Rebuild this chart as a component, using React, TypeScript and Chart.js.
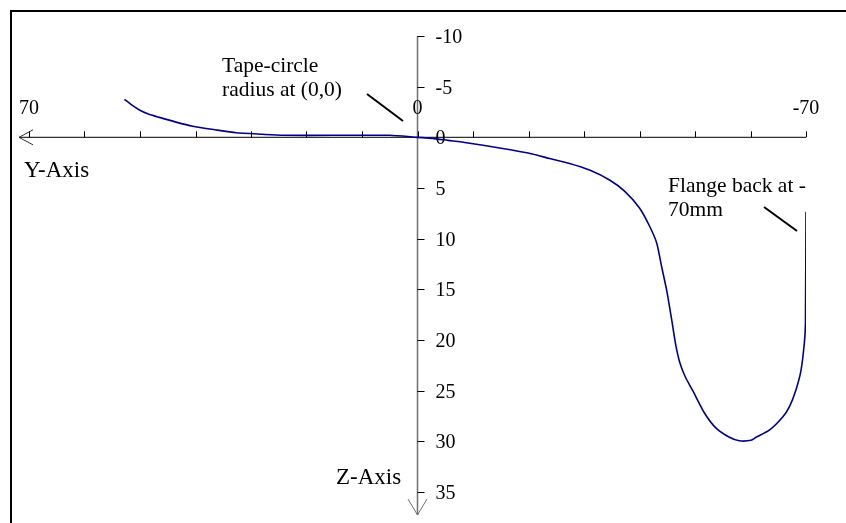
import React, { useEffect, useRef } from "react";
import { Chart, registerables } from "chart.js";

Chart.register(...registerables);

// Profile: Y-axis position (mm) and Z-axis depth (mm)
const profileY = [
  52.8, 51.5, 50.1, 48.5, 46.5, 43.5, 40.5, 36.5, 32.7, 28, 24.3, 15, 5, 0,
  -2.7, -5.5, -8.8, -14.8, -20.7, -23.8, -27.4, -31.0, -34.6, -37.3, -40.0,
  -41.8, -43.1, -44.0, -44.9, -45.8, -46.5, -47.3, -48.3, -49.6, -51.7, -53.8,
  -56.2, -58, -60.1, -61, -63.4, -65.8, -67, -68.2, -69.1, -69.7, -69.9, -70,
];
const profileZ = [
  -3.75, -3.2, -2.7, -2.3, -1.97, -1.5, -1.1, -0.75, -0.45, -0.3, -0.2, -0.2,
  -0.2, 0, 0.1, 0.3, 0.53, 1.06, 1.65, 2.09, 2.58, 3.23, 4.21, 5.31, 6.97, 8.75,
  10.43, 12.8, 15.1, 18.0, 20.4, 22.3, 23.7, 25.0, 27.2, 28.7, 29.6, 29.95, 29.9,
  29.6, 28.9, 27.6, 26.6, 24.9, 23, 20.3, 18.4, 7.35,
];

const xTicks = [70, 60, 50, 40, 30, 20, 10, 0, -10, -20, -30, -40, -50, -60, -70];
const xTickLabels = [70, 0, -70];
const yTicks = [-10, -5, 0, 5, 10, 15, 20, 25, 30, 35];

const SERIF = '"Liberation Serif", "Times New Roman", serif';

const axesPlugin = {
  id: "crossAxes",
  beforeDatasetsDraw(chart: any) {
    const ctx = chart.ctx;
    const xs = chart.scales.x;
    const ys = chart.scales.y;
    const ox = xs.getPixelForValue(0);
    const oy = ys.getPixelForValue(0);
    const xLeft = xs.getPixelForValue(70);
    const xRight = xs.getPixelForValue(-70);
    const yTop = ys.getPixelForValue(-10);
    const yBot = ys.getPixelForValue(35);
    ctx.save();
    // frame
    ctx.strokeStyle = "#000";
    ctx.lineWidth = 2;
    ctx.beginPath();
    ctx.moveTo(11, 523);
    ctx.lineTo(11, 11);
    ctx.lineTo(846, 11);
    ctx.stroke();

    // X axis line with arrow
    ctx.strokeStyle = "#303030";
    ctx.lineWidth = 1.3;
    ctx.beginPath();
    ctx.moveTo(xRight, oy);
    ctx.lineTo(xLeft - 10, oy);
    ctx.stroke();
    ctx.lineWidth = 1;
    ctx.beginPath();
    ctx.moveTo(xLeft + 4, oy - 7.5);
    ctx.lineTo(xLeft - 10, oy);
    ctx.lineTo(xLeft + 4, oy + 7.5);
    ctx.stroke();

    // Y axis line with arrow
    ctx.strokeStyle = "#707070";
    ctx.lineWidth = 1.5;
    ctx.beginPath();
    ctx.moveTo(ox, yTop);
    ctx.lineTo(ox, yBot + 23);
    ctx.stroke();
    ctx.lineWidth = 1;
    ctx.beginPath();
    ctx.moveTo(ox - 9.5, yBot + 7);
    ctx.lineTo(ox, yBot + 23);
    ctx.lineTo(ox + 9.5, yBot + 7);
    ctx.stroke();

    // ticks
    ctx.strokeStyle = "#000";
    ctx.lineWidth = 1;
    xTicks.forEach((v) => {
      const px = Math.round(xs.getPixelForValue(v)) + 0.5;
      ctx.beginPath();
      ctx.moveTo(px, oy);
      ctx.lineTo(px, oy - 6);
      ctx.stroke();
    });
    yTicks.forEach((v) => {
      const py = Math.round(ys.getPixelForValue(v)) + 0.5;
      ctx.beginPath();
      ctx.moveTo(ox, py);
      ctx.lineTo(ox + 7, py);
      ctx.stroke();
    });

    // tick labels
    ctx.fillStyle = "#000";
    ctx.font = `20px ${SERIF}`;
    ctx.textAlign = "center";
    ctx.textBaseline = "alphabetic";
    xTickLabels.forEach((v) => {
      ctx.fillText(String(v), xs.getPixelForValue(v), oy - 23);
    });
    ctx.textAlign = "left";
    yTicks.forEach((v) => {
      ctx.fillText(String(v), ox + 18, ys.getPixelForValue(v) + 7);
    });
    ctx.restore();
  },
  afterDraw(chart: any) {
    const ctx = chart.ctx;
    ctx.save();
    ctx.fillStyle = "#000";
    ctx.textAlign = "left";
    ctx.textBaseline = "alphabetic";
    ctx.font = `23px ${SERIF}`;
    ctx.fillText("Y-Axis", 24, 177);
    ctx.fillText("Z-Axis", 336, 484);
    ctx.font = `21.5px ${SERIF}`;
    ctx.fillText("Tape-circle", 222, 72);
    ctx.fillText("radius at (0,0)", 222, 96);
    ctx.fillText("Flange back at -", 668, 192);
    ctx.fillText("70mm", 668, 216);
    ctx.strokeStyle = "#000";
    ctx.lineWidth = 2;
    ctx.beginPath();
    ctx.moveTo(367, 94);
    ctx.lineTo(403, 121);
    ctx.stroke();
    ctx.beginPath();
    ctx.moveTo(764, 207);
    ctx.lineTo(797, 231);
    ctx.stroke();
    ctx.restore();
  },
};

export default function App() {
  const ref = useRef<HTMLCanvasElement | null>(null);
  useEffect(() => {
    document.body.style.margin = "0";
    const canvas = ref.current;
    if (!canvas) return;
    const points = profileY.map((y, i) => ({ x: y, y: profileZ[i] }));
    const chart = new Chart(canvas, {
      type: "scatter",
      data: {
        datasets: [
          {
            data: points,
            showLine: true,
            borderColor: "#00008b",
            borderWidth: 1.6,
            pointRadius: 0,
            tension: 0.2,
            fill: false,
          },
        ],
      },
      options: {
        responsive: false,
        animation: false,
        devicePixelRatio: 1,
        layout: { padding: { left: 29, right: 40, top: 36, bottom: 31 } },
        plugins: { legend: { display: false }, tooltip: { enabled: false } },
        scales: {
          x: { type: "linear", reverse: true, min: -70, max: 70, display: false },
          y: { type: "linear", reverse: true, min: -10, max: 35, display: false },
        },
      },
      plugins: [axesPlugin],
    });
    return () => chart.destroy();
  }, []);
  return (
    <div style={{ position: "absolute", left: 0, top: 0, width: 846, height: 523, background: "#fff" }}>
      <canvas ref={ref} width={846} height={523} />
    </div>
  );
}
